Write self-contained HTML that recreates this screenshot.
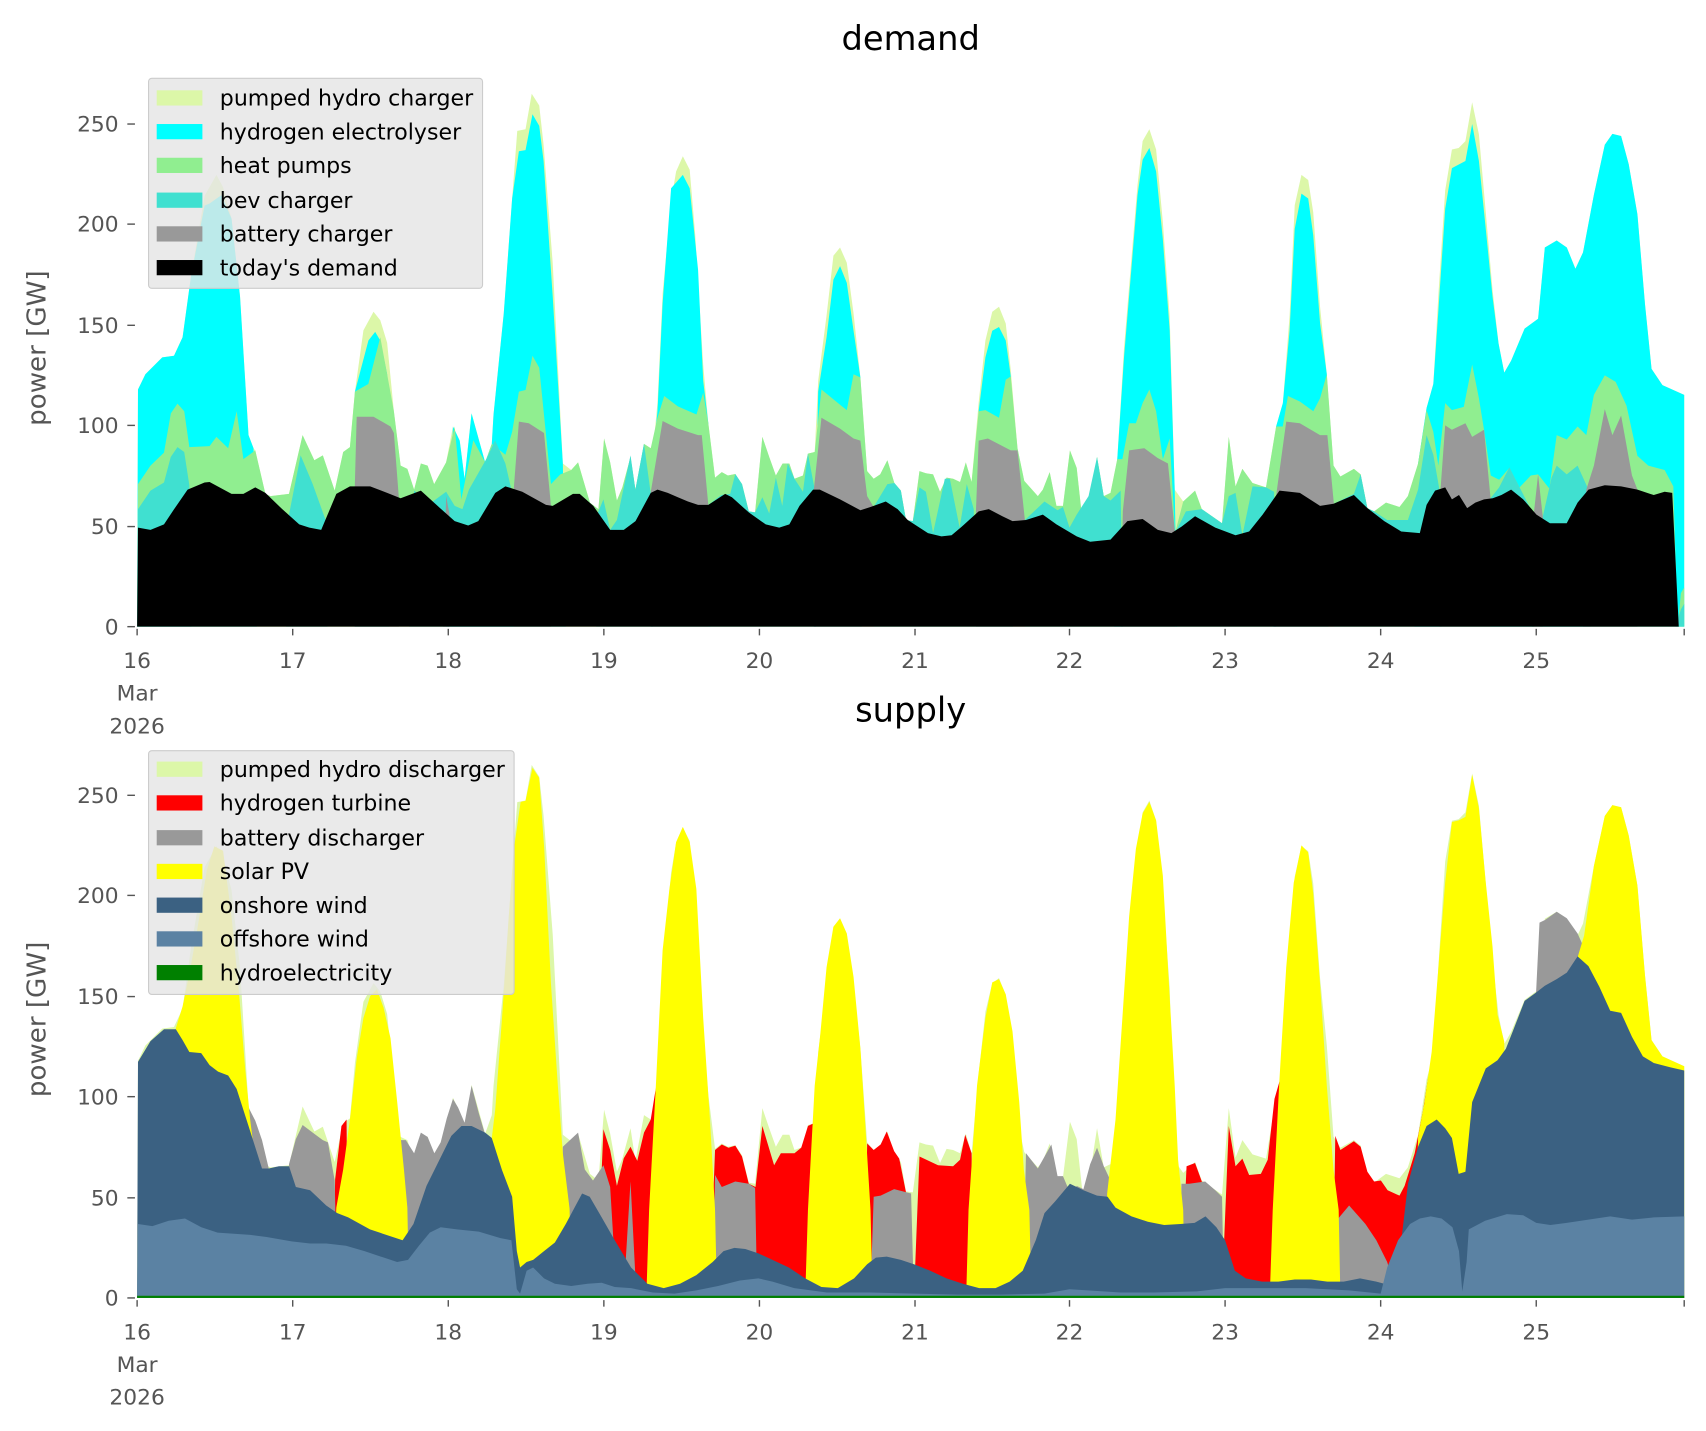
<!DOCTYPE html>
<html><head><meta charset="utf-8"><style>html,body{margin:0;padding:0;background:#fff}svg{display:block}text{font-family:"DejaVu Sans","Liberation Sans",sans-serif}</style></head><body>
<svg width="1706" height="1431" viewBox="0 0 1568 1315.3" xmlns="http://www.w3.org/2000/svg">
<defs>
<polygon id="env" points="126,576 126.8,358 133.6,344 149.1,328.5 159.9,327 167.8,310 175.5,254 188,180 198.9,160.7 205,172 212.8,201 220.6,272.6 228.4,400 233,412 234.6,414 243.9,454 248.6,456 265.6,454 278.1,400 288.9,423 296.7,418.6 307.6,451 315.4,415.5 321.6,411 326.2,360 334,303.7 343.3,286.6 349.5,294.3 355.8,315 362,378 368.2,428 374.4,431 380.6,450 386.8,426 393,428 399,445 410,425 416.3,392 422.5,405 427,440 433.4,380 445.9,425 452,408 453.6,381 463,288 470.7,182.5 475.4,120.3 483,118.8 488.7,86.2 495.6,97 499.6,133 508,242 517.3,426 525,432 531.3,425 542.2,462 550,468 555.2,403 560.8,425 567,460 572,448 579.5,420 584,450 591.9,408 598.1,412 601,405 604.3,370 609,270 616.8,185 621.4,157.6 627.6,143.6 633.9,156 639,216 646.3,335 651,389 657.2,439 663.4,434 669,437 675.8,435.7 682,445 688.2,470 694,471 700.7,401.5 707,420 713.1,437 719.3,426 725.5,426 730.2,440 738,437 742.6,417 748.8,415.5 752,350 759.7,290 766,235 772.1,227.5 778.3,241.5 784.5,288 790.8,347 797,433 803,440 809,436 815.6,423 822,444 828,451 832.7,478 839,479 845.1,433 851,435 857.6,436 864,452 870,439 876,440 882.4,443 887.7,425 893,443 899.5,370 905.7,313 912,286.6 918.2,282 924.4,297.4 929,340 935.2,412 941.4,442 953.9,456 958.5,450 964.8,434 971,465 977,465 983.4,414 989.6,430 995.8,487 1000.5,471 1008.3,420 1014.5,456 1020.7,453 1026.9,422 1033.1,320 1039.3,245 1045.5,170 1050.2,129.7 1056.4,118.8 1062.6,137.4 1068.8,204 1075.1,291 1079.7,450 1087.5,461 1098.4,451 1104.6,468 1123.2,481 1129.4,401.5 1135.6,447 1141.9,431 1151.2,444 1163.6,448 1172.9,392 1179.1,370.5 1185.3,290 1190,188.7 1196.2,160.7 1202.4,165.4 1207,195 1213.3,282 1219.5,344 1225.7,428 1232,438 1244.4,431 1250.6,436 1256.8,467 1263,470 1273.9,462 1286.3,466 1294,456 1303.4,426 1311.2,375 1317.4,353 1322.1,270 1328.3,175 1334.5,137.4 1340.7,136 1346.9,129.7 1353.1,94 1359.3,123.5 1365.6,195 1371.8,266 1377.4,316 1382.6,342.5 1388.9,331.6 1401.3,302 1413.7,293 1419.9,227.5 1430.8,221 1440.1,227.5 1448,247 1455,232 1465,179 1475,133 1482,123 1490,125 1497,151 1505,197 1512,280 1518,339 1528,354 1548,363 1548,576"/>
</defs>

<!-- ===== DEMAND ===== -->
<use href="#env" fill="#dcf7a8"/>
<g fill="#00ffff">
<polygon points="126,576 126.8,358 133.6,344 149.1,328.5 159.9,327 167.8,310 175.5,254 188,189 192.6,187 203.5,179.4 212.8,201 220.6,272.6 228.4,400 233,412 236,576"/>
<polygon points="326,576 326.2,360 338.6,313 344.8,305 349.5,313 355.8,344 358,576"/>
<polygon points="410,576 416.3,392 422.5,405 427,440 433.4,380 445.9,425 452,408 453.6,381 463,288 470.7,182.5 476.9,139 483,138 489.4,105 495.6,115.7 499.6,148 508,272.6 517.3,426 520,576"/>
<polygon points="598,576 601,410 604.3,378 609,279 616.8,173 627.6,160.7 633.9,173 641.6,248 646.3,350 651,389 653,576"/>
<polygon points="748,576 752,360 759.7,310 766,257 772.1,244.6 778.3,260 784.5,304 790.8,347 792,576"/>
<polygon points="897,576 899.5,378 905.7,328.5 912,304 918.2,300.6 924.4,313 929,346 931,576"/>
<polygon points="1024,576 1026.9,422 1033.1,328.5 1039.3,254 1045.5,179.4 1050.2,146.8 1056.4,136 1062.6,157.6 1068.8,220 1075.1,304 1079.7,450 1082,576"/>
<polygon points="1170,576 1172.9,392 1179.1,370.5 1185.3,304 1190,210.5 1196.2,178 1202.4,182.5 1207,216 1213.3,297 1219.5,344 1221,576"/>
<polygon points="1300,576 1303.4,426 1311.2,375 1317.4,353 1322.1,285 1328.3,192 1334.5,154.5 1346.9,148 1353.1,114 1359.3,148 1365.6,210.5 1371.8,272.6 1377.4,316 1382.6,342.5 1388.9,331.6 1401.3,302 1413.7,293 1419.9,227.5 1430.8,221 1440.1,227.5 1448,247 1455,232 1465,179 1475,133 1482,123 1490,125 1497,151 1505,197 1512,280 1518,339 1528,354 1548,363 1548,576"/>
</g>
<polygon fill="#90ee90" points="126,576 126.8,445 138.3,428 150.7,416 157,380 163.1,371 169.3,378 174,411 192.6,410 198.9,401.5 209.7,412 217.5,378 223.7,422 234.6,414 243.9,454 248.6,456 265.6,454 278.1,400 288.9,423 296.7,418.6 307.6,451 315.4,415.5 321.6,411 326.2,360 338.5,353 349.5,310 355.8,344 362,378 368.2,428 374.4,431 380.6,450 386.8,426 393,428 399,445 410,425 417.9,392 424,459 435,404.6 445.9,425 452,408 464.5,418 470.7,397 476.9,360 483,358.5 489.4,327 495.6,338 506.4,445 515,436 525,432 531.3,425 542.2,462 550,468 555.2,403 560.8,425 567,460 572,448 579.5,420 584,450 591.9,408 598.1,412 604.3,384 610.5,364 623,373.5 640.1,381 646.3,361 651,389 657.2,439 663.4,434 669,437 675.8,435.7 682,445 688.2,470 694,471 700.7,401.5 707,420 713.1,437 719.3,426 725.5,426 730.2,440 738,437 742.6,417 748.8,415.5 755,358 772.1,372 778.3,377 784.5,344 790.8,347 797,433 803,440 809,436 815.6,423 822,444 828,451 832.7,478 839,479 845.1,433 851,435 857.6,436 864,452 870,439 876,440 882.4,443 887.7,425 893,443 899.5,378 905.7,377 918.2,384 924.4,349 929,346 935.2,412 941.4,442 953.9,456 958.5,450 964.8,434 971,465 977,465 983.4,414 989.6,430 995.8,487 1000.5,471 1008.3,420 1014.5,456 1020.7,453 1026.9,422 1031.6,422 1037.8,389 1044,389 1050.2,370.5 1056.4,358 1062.6,378 1068.8,422 1075.1,403 1080,490 1087.5,461 1098.4,451 1104.6,468 1123.2,481 1129.4,401.5 1135.6,447 1141.9,431 1151.2,444 1163.6,448 1172.9,392 1179,392 1183.8,364 1194.7,369 1207.1,378 1213.3,366 1219.5,344 1225.7,428 1232,438 1244.4,431 1250.6,436 1256.8,467 1263,470 1273.9,462 1286.3,466 1294,456 1303.4,426 1311.2,377 1317.4,397 1322,428 1328.3,370.5 1334.5,377 1345.4,374 1353.1,335 1359.3,366 1364,395 1370.2,437 1377.9,441 1387.3,430 1396.7,448 1407,437 1413.7,436 1424,449 1430.8,400 1440,404 1450,392 1458,400 1465,363 1475,345 1485,351 1495,373 1505,419 1515,428 1530,432 1538,447 1542,576 1545,545 1548,540 1548,576"/>
<g fill="#40e0d0">
<polygon points="126,576 126.8,468 138.3,451 150.7,443.5 156.9,420 163.1,411 169.3,415.5 174,446 176,576"/>
<polygon points="263,576 265.6,473 276.3,418.6 287.4,445 299.6,479 301,576"/>
<polygon points="376,576 380.6,451 395,463 410,452 417.9,465 425,468 431,450 448,420 455,404.6 464.5,426 470,450 472,576"/>
<polygon points="548,576 548,475 554.6,459 560.8,487 567,478 579.5,418.6 584,450 591.9,407.8 598,453 600,576"/>
<polygon points="651,576 651,464 663,455 671.1,454 675.8,435.7 682,445 688.2,470 694,471 700.7,457 707,472 713.1,439 719,465 724,426 730.2,440 738,452 742.6,417 748.8,450 750,576"/>
<polygon points="803,576 803,466 815.6,445 822,444 828,451 832.7,478 839,479 845.1,448 851,452 857.6,490 868.4,440 873,440 882,485 888.6,445 895,468 897,576"/>
<polygon points="942,576 942,478 960,461 972,469 977,466 983,485 989.6,473 1000.5,456 1008.3,420 1014.5,456 1020.7,460 1030,451 1032,576"/>
<polygon points="1080,576 1080,490 1090,470 1104.6,468 1123.2,481 1129.4,456 1135.6,453 1141.9,492 1151.2,447 1163.6,448 1171,452 1173,576"/>
<polygon points="1226,576 1226,463 1244.4,454 1250.6,436 1256.8,467 1263,470 1275,478 1294,478 1303.4,450 1311.2,400 1317.4,418 1323,450 1325,576"/>
<polygon points="1370,576 1370,458 1377.9,448 1387.3,429.5 1396.7,448 1407,468 1410,576"/>
<polygon points="1415,576 1418,475 1426.1,439 1430.8,428 1440,436 1450,428 1460,450 1462,576"/>
<polygon points="1540,576 1545,560 1548,555 1548,576"/>
</g>
<g fill="#999999">
<polygon points="326,576 326,450 327.8,383 343.3,383 358.9,392 362,398 366.6,458 366.6,576"/>
<polygon points="407,576 410,456 413,472 413,576"/>
<polygon points="472,576 472,452 476.9,387.5 486,389 500,398 506.4,465 506.4,576"/>
<polygon points="598,576 598,453 609,387 623,394 641.6,400 645,400 651,464 651,576"/>
<polygon points="748,576 748,450 755,384 772.1,394 784.5,403 790.8,405 797,456 803,466 803,576"/>
<polygon points="897,576 897,470 899.5,405 908,403 929,414 935.2,414 942,478 942,576"/>
<polygon points="1030,576 1032,470 1037.8,414 1051.8,412 1064,421 1073.5,426 1080,490 1080,576"/>
<polygon points="1171,576 1173,455 1182.2,387.5 1194.7,389 1213.3,400 1220,400 1226,463 1226,576"/>
<polygon points="1323,576 1324,450 1328.3,391 1334.5,395 1346.9,389 1353.1,401.5 1364,395 1370,458 1370,576"/>
<polygon points="1408,576 1410,470 1413.7,436 1418,475 1418,576"/>
<polygon points="1455,576 1458,450 1465,428 1475,376 1482,400 1490,382 1500,437 1505,450 1505,576"/>
</g>
<polygon fill="#000" points="126,576 126.8,485 138.3,487 150.7,482 160,468 172.4,450 188,443.5 192.6,443 212.8,454 223.7,454 234.6,448 243.9,453 259.4,468 275,482 284.3,485 295.2,487 309.1,454 321.6,447 340.2,447 355.8,453 368.2,458 386.8,451 405.5,468 417.9,479 430.3,483 439.6,479 455.2,453 464.5,447 480,452 501.8,464 508,465 526.6,454 532.8,454 545.3,465 560.8,487 573.3,487 584.1,479 598.1,453 604.3,450 613.7,453 623,457 632.3,461 641.6,464 651,464 666.5,454 672.7,457 688.2,471 703.8,482 716.2,485 725.5,482 734.8,465 747.3,450 753.5,450 772.1,459 790.8,469 800.1,466 814.1,461 825,468 834.3,478 852.9,490 865.3,493 874.6,492 884,484 899.5,470 908.8,468 921.3,474.5 930.6,479 943,478 958.5,473 971,482 989.6,493 1002,498 1020.7,496 1036.2,479 1050.2,477 1064.2,487 1076.6,490 1086,484 1098.4,474.5 1117,485 1135.6,492 1148.1,488.5 1160.5,473 1176,451 1194.7,453 1213.3,465 1225.7,463 1244.4,455 1256.8,467 1272.3,479 1287.9,488.5 1305,490 1311.2,464 1319,451 1328.3,448 1334.5,459 1341,455 1348.5,467 1356,462 1364,459 1372,458 1380,455 1388.9,450 1400,459 1412.2,473 1424.6,481 1440,481 1450,462 1460,450 1475,446 1490,447 1505,450 1520,455 1530,452 1537,453 1543,576"/>

<!-- ===== SUPPLY ===== -->
<use href="#env" fill="#dcf7a8" transform="translate(0,617)"/>
<g fill="#ff0000">
<polygon points="306,1193 308,1084 313.8,1035 318.5,1029 320,1193"/>
<polygon points="548,1193 554.6,1038 560.8,1057 567,1090 573.3,1064.6 579.5,1054 585.7,1067 591.9,1041 598.1,1029 602.8,1000 604,1193"/>
<polygon points="652,1193 657.2,1057 663.4,1052 669.6,1055 675.8,1053 682,1063 688.2,1088 694.4,1091 700.7,1035 711.5,1071 717.7,1060 730.2,1060 736.4,1055 742.6,1035 748.8,1032 752,1193"/>
<polygon points="795,1193 797,1051 803,1057 809.4,1052 815,1040 821.8,1058 826.5,1065 832.7,1096 838,1193"/>
<polygon points="840,1193 845.1,1063 862.2,1071 876,1072 882.4,1066 887.1,1043 893,1060 895,1193"/>
<polygon points="1085,1193 1090.6,1072 1098.4,1069 1104.6,1086 1106,1193"/>
<polygon points="1123,1193 1129.4,1035 1135.6,1072 1141.9,1065 1148.1,1080 1158.9,1079 1165.2,1066 1171.4,1010 1177.6,988.5 1180,1193"/>
<polygon points="1225,1193 1227.3,1044 1232,1057 1244.4,1049 1250.6,1054 1256.8,1077 1263,1086 1269.2,1085 1275.4,1094 1286.3,1099 1291,1090 1300.3,1060 1308.1,1020 1312.7,990 1316,1193"/>
</g>
<g fill="#999999">
<polygon points="226,1193 228.4,1018 234.6,1030 240.8,1048 247,1074 250,1193"/>
<polygon points="262,1193 265.6,1070 271.9,1047 278.1,1034 290,1043 296.7,1048 301.4,1050 307.6,1085 310,1193"/>
<polygon points="362,1193 366.6,1048 373,1048 380.6,1060 386.8,1041 393,1045 399.2,1060 405,1050 410.6,1028 416.3,1010 421,1018 427,1032 433.4,998 440,1023 445.9,1043 450,1193"/>
<polygon points="514,1193 517.3,1054 531.3,1041 537.5,1075 545,1085 554.6,1071 560.8,1091 567,1193"/>
<polygon points="573,1193 579.5,1086 585,1193"/>
<polygon points="655,1193 657.2,1080 663.4,1091 675.8,1086 688.2,1088 694,1092 696,1193"/>
<polygon points="800,1193 803,1100 809.4,1099 821.8,1093 837.4,1097 840,1193"/>
<polygon points="940,1193 943,1060 953.9,1074 966.3,1052 972,1081 977,1081 985,1100 989.6,1090 995.8,1093 1002,1070 1008.3,1055 1014.5,1072 1020.7,1085 1025,1193"/>
<polygon points="1084,1193 1085.9,1088 1093,1088 1107.7,1086 1117,1094 1123.2,1100 1125,1193"/>
<polygon points="1228,1193 1230,1120 1240,1108 1255,1125 1265,1140 1275,1160 1285,1193"/>
<polygon points="1405,1193 1410,950 1415,848 1420,845.6 1430.8,838 1440.1,844 1450,858 1458,876 1460,1193"/>
</g>
<g fill="#ffff00">
<polygon points="155,1193 161.6,945 167.8,925 175,890 182,850 190,800 197,778 205,782 212.8,842.5 219,904.6 225.3,982 229.9,1029 234.6,1066 240,1193"/>
<polygon points="305,1193 309.1,1110 315.4,1075 321.6,1029 327.8,973 334,935.7 340.2,915.5 346.4,909.3 352.6,926.4 358.9,954.3 365.1,1013.4 371.3,1075.5 374.4,1110 376,1193"/>
<polygon points="450,1193 452,1046 455.2,1019.6 461.4,935.7 467.6,842.5 472.3,780.4 478.5,737 483,736 489.4,705.8 495.6,715 500.2,780 506.4,904.6 512.7,997.8 517.3,1060 523.5,1111 525,1193"/>
<polygon points="594,1193 596.6,1112 602.8,997.8 609,873.6 615.2,817.6 621.4,774 627.6,760 633.9,774 640,817 646.3,935.7 652.5,1029 657.2,1112 659,1193"/>
<polygon points="740,1193 742.6,1112 748.8,997.8 754,950 759.7,889 766,851.8 772.1,844 778.3,858 784.5,898 790.8,963.7 795,1029 800.1,1112 802,1193"/>
<polygon points="888,1193 890.2,1112 898,997.8 905.7,935.7 912,903 918.2,900 924.4,914 930.6,948 936.8,1013 941,1075 946.1,1112 948,1193"/>
<polygon points="1015,1193 1017.6,1097 1025.3,1029 1031.6,935.7 1037.8,842.5 1044,780.4 1050.2,747.7 1056.4,737 1062.6,754 1068.8,805 1073.5,889 1079.7,997.8 1082.8,1066 1087.5,1112 1089,1193"/>
<polygon points="1167,1193 1169.8,1112 1176,991.6 1182.2,889 1189.1,811.4 1196.2,777 1202.4,783.5 1207,821 1213.3,904.6 1219.5,997.8 1225.7,1075.5 1230.4,1112 1232,1193"/>
<polygon points="1300,1193 1303.4,1045 1309,1015 1315.9,966.8 1322.1,889 1328.3,811 1334.5,755.5 1340.7,754 1346.9,750.8 1353.1,712 1359.3,743 1365.6,811 1371.8,870 1376.4,932.6 1382.6,957.4 1386,1193"/>
<polygon points="1420,1193 1440,900 1450,880 1456,860 1465,796 1475,750 1482,740 1490,742 1497,768 1505,814 1512,897 1518,956 1528,971 1548,980 1548,1193"/>
</g>
<polygon fill="#3b6182" points="126,1193 126.8,976 138.3,957 150.7,946 161.6,946 167.8,956 174,967 184.9,968 192.6,979 200.4,985 209.7,988.5 217.5,1001 228.4,1035 240.8,1074 247,1074 256.3,1072 265.6,1072 271.9,1091 285,1094 299.8,1108 310,1115 320,1119 340,1130 355,1135 370,1140 380,1125 392,1090 399.2,1075.5 414.8,1044 424.1,1035 433.4,1035 445.9,1041 452,1046 461.4,1075.5 470.7,1100 475,1150 478,1165 484,1160 490,1158 500,1150 510,1142 520,1125 535,1097 542,1100 553,1119 565,1140 580,1165 595,1180 610,1184 625,1180 640,1172 655,1160 665,1150 675,1147 685,1148 697,1152 710,1158 725,1165 740,1175 755,1183 770,1184 785,1175 797,1162 805,1156 815,1155 828,1158 840,1162 855,1168 870,1175 885,1180 900,1184 915,1184 928,1178 940,1168 952,1140 960,1115 970,1104 983.4,1088 995.8,1094 1008.3,1099 1018,1100 1025.3,1110 1040,1118 1055,1123 1070,1126 1085,1125 1098,1124 1108,1118 1118,1128 1126,1140 1135,1168 1145,1175 1160,1178 1175,1178 1190,1176 1205,1176 1220,1178 1235,1178 1250,1175 1265,1178 1280,1182 1288,1140 1294.1,1088 1303.4,1054 1311.2,1035 1320.5,1029 1328.3,1037 1334.5,1046 1340.7,1079 1346.9,1077 1353.1,1013 1365.6,982 1376.4,974.5 1384.1,964 1390.4,948 1401.3,920 1412.2,912 1419.9,906 1430.8,900 1440.1,894 1450,879 1460,888 1470,907 1480,929 1490,931 1500,953 1510,971 1520,977 1535,981 1548,984 1548,1193"/>
<polygon fill="#5b82a3" points="126,1193 126.8,1125 140,1127 155,1122 170,1120 185,1128 200,1133 215,1134 230,1135 245,1137 268,1141 285,1143 300,1143 318,1145 335,1150 350,1155 365,1160 375,1158 385,1145 395,1133 405,1128 420,1130 440,1132 460,1138 470,1140 475,1185 478,1189 484,1168 490,1165 500,1175 510,1180 525,1182 540,1180 553,1179 565,1183 580,1184 600,1188 620,1189 640,1186 660,1182 680,1177 697,1175 710,1178 730,1184 760,1188 800,1188 840,1189 880,1190 920,1190 960,1189 983,1185 1000,1186 1030,1188 1060,1188 1100,1187 1126,1184 1160,1184 1200,1184 1240,1186 1269,1189 1275,1165 1285,1140 1296,1125 1305,1120 1315,1118 1325,1120 1335,1128 1341,1150 1344,1187 1348,1160 1350,1130 1365,1122 1385,1116 1400,1117 1412,1124 1425,1126 1440,1124 1460,1121 1480,1118 1500,1121 1520,1119 1548,1118 1548,1193"/>
<rect x="126" y="1191" width="1422" height="2" fill="#008000"/>

<!-- ===== AXES ===== -->
<g stroke="#555" stroke-width="1.3">
<line x1="117" y1="576" x2="124" y2="576"/><line x1="117" y1="484" x2="124" y2="484"/><line x1="117" y1="391" x2="124" y2="391"/><line x1="117" y1="299" x2="124" y2="299"/><line x1="117" y1="206" x2="124" y2="206"/><line x1="117" y1="114" x2="124" y2="114"/>
<line x1="117" y1="1193" x2="124" y2="1193"/><line x1="117" y1="1101" x2="124" y2="1101"/><line x1="117" y1="1008" x2="124" y2="1008"/><line x1="117" y1="916" x2="124" y2="916"/><line x1="117" y1="823" x2="124" y2="823"/><line x1="117" y1="731" x2="124" y2="731"/>
</g>
<g stroke="#555" stroke-width="1.3">
<line x1="126" y1="578" x2="126" y2="584"/><line x1="269" y1="578" x2="269" y2="584"/><line x1="412" y1="578" x2="412" y2="584"/><line x1="555" y1="578" x2="555" y2="584"/><line x1="698" y1="578" x2="698" y2="584"/><line x1="841" y1="578" x2="841" y2="584"/><line x1="983" y1="578" x2="983" y2="584"/><line x1="1126" y1="578" x2="1126" y2="584"/><line x1="1269" y1="578" x2="1269" y2="584"/><line x1="1412" y1="578" x2="1412" y2="584"/><line x1="1548" y1="578" x2="1548" y2="584"/>
<line x1="126" y1="1195" x2="126" y2="1201"/><line x1="269" y1="1195" x2="269" y2="1201"/><line x1="412" y1="1195" x2="412" y2="1201"/><line x1="555" y1="1195" x2="555" y2="1201"/><line x1="698" y1="1195" x2="698" y2="1201"/><line x1="841" y1="1195" x2="841" y2="1201"/><line x1="983" y1="1195" x2="983" y2="1201"/><line x1="1126" y1="1195" x2="1126" y2="1201"/><line x1="1269" y1="1195" x2="1269" y2="1201"/><line x1="1412" y1="1195" x2="1412" y2="1201"/><line x1="1548" y1="1195" x2="1548" y2="1201"/>
</g>
<g fill="#555" font-size="20" text-anchor="end">
<text x="109" y="583">0</text><text x="109" y="491">50</text><text x="109" y="398">100</text><text x="109" y="306">150</text><text x="109" y="213">200</text><text x="109" y="121">250</text>
<text x="109" y="1200">0</text><text x="109" y="1108">50</text><text x="109" y="1015">100</text><text x="109" y="923">150</text><text x="109" y="830">200</text><text x="109" y="738">250</text>
</g>
<g fill="#555" font-size="20" text-anchor="middle">
<text x="126" y="614">16</text><text x="126" y="644">Mar</text><text x="126" y="674">2026</text>
<text x="269" y="614">17</text><text x="412" y="614">18</text><text x="555" y="614">19</text><text x="698" y="614">20</text><text x="841" y="614">21</text><text x="983" y="614">22</text><text x="1126" y="614">23</text><text x="1269" y="614">24</text><text x="1412" y="614">25</text>
<text x="126" y="1231">16</text><text x="126" y="1261">Mar</text><text x="126" y="1291">2026</text>
<text x="269" y="1231">17</text><text x="412" y="1231">18</text><text x="555" y="1231">19</text><text x="698" y="1231">20</text><text x="841" y="1231">21</text><text x="983" y="1231">22</text><text x="1126" y="1231">23</text><text x="1269" y="1231">24</text><text x="1412" y="1231">25</text>
</g>
<text x="837" y="46" font-size="31" text-anchor="middle" fill="#000">demand</text>
<text x="837" y="663" font-size="31" text-anchor="middle" fill="#000">supply</text>
<text transform="translate(42,320) rotate(-90)" font-size="24" text-anchor="middle" fill="#555">power [GW]</text>
<text transform="translate(42,937) rotate(-90)" font-size="24" text-anchor="middle" fill="#555">power [GW]</text>

<!-- ===== LEGENDS ===== -->
<rect x="136.5" y="72" width="307" height="193" rx="3" fill="#e5e5e5" fill-opacity="0.82" stroke="#cccccc" stroke-width="1"/>
<rect x="144" y="83" width="42" height="14" fill="#dcf7a8"/>
<rect x="144" y="114" width="42" height="14" fill="#00ffff"/>
<rect x="144" y="145" width="42" height="14" fill="#90ee90"/>
<rect x="144" y="177" width="42" height="14" fill="#40e0d0"/>
<rect x="144" y="208" width="42" height="14" fill="#999999"/>
<rect x="144" y="239" width="42" height="14" fill="#000000"/>
<g font-size="20.3" fill="#000">
<text x="202" y="97">pumped hydro charger</text>
<text x="202" y="128">hydrogen electrolyser</text>
<text x="202" y="159">heat pumps</text>
<text x="202" y="191">bev charger</text>
<text x="202" y="222">battery charger</text>
<text x="202" y="253">today's demand</text>
</g>
<rect x="136.5" y="690" width="336" height="224" rx="3" fill="#e5e5e5" fill-opacity="0.82" stroke="#cccccc" stroke-width="1"/>
<rect x="144" y="700" width="42" height="14" fill="#dcf7a8"/>
<rect x="144" y="731" width="42" height="14" fill="#ff0000"/>
<rect x="144" y="763" width="42" height="14" fill="#999999"/>
<rect x="144" y="794" width="42" height="14" fill="#ffff00"/>
<rect x="144" y="825" width="42" height="14" fill="#3b6182"/>
<rect x="144" y="856" width="42" height="14" fill="#5b82a3"/>
<rect x="144" y="887" width="42" height="14" fill="#008000"/>
<g font-size="20.3" fill="#000">
<text x="202" y="714">pumped hydro discharger</text>
<text x="202" y="745">hydrogen turbine</text>
<text x="202" y="777">battery discharger</text>
<text x="202" y="808">solar PV</text>
<text x="202" y="839">onshore wind</text>
<text x="202" y="870">offshore wind</text>
<text x="202" y="901">hydroelectricity</text>
</g>
</svg>
</body></html>
